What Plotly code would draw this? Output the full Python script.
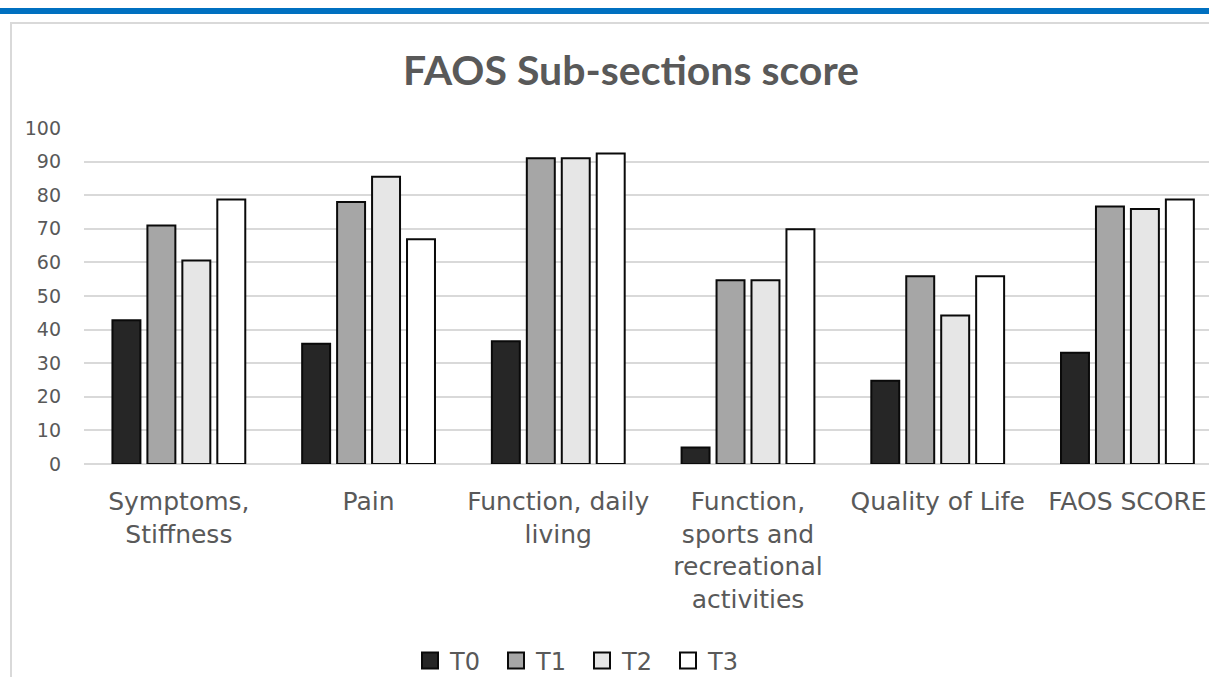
import plotly.graph_objects as go

categories = [
    "Symptoms,<br>Stiffness",
    "Pain",
    "Function, daily<br>living",
    "Function,<br>sports and<br>recreational<br>activities",
    "Quality of Life",
    "FAOS SCORE",
]
series_names = ["T0", "T1", "T2", "T3"]
t0 = [42.8, 35.8, 36.5, 4.9, 24.8, 33.1]
t1 = [71.0, 78.0, 91.0, 54.7, 55.9, 76.6]
t2 = [60.6, 85.5, 91.0, 54.7, 44.2, 75.9]
t3 = [78.7, 66.9, 92.4, 69.9, 55.9, 78.7]
y_ticks = [0, 10, 20, 30, 40, 50, 60, 70, 80, 90, 100]

values = [t0, t1, t2, t3]
fills = ["#262626", "#a6a6a6", "#e6e6e6", "#ffffff"]
outline = "#0a0a0a"

W, H = 1209, 677
L, R, T, B = 84, 0, 128, 213
pw, ph = W - L - R, H - T - B

def px_x(px):
    return (px - L) / pw

def px_y(py):
    return (H - B - py) / ph

fig = go.Figure()
for name, vals, col in zip(series_names, values, fills):
    fig.add_trace(go.Bar(
        name=name, x=list(range(len(categories))), y=vals, showlegend=False,
        legendgroup=name,
        marker=dict(color=col, line=dict(color=outline, width=2)),
    ))
# legend entries (larger square swatches like the reference)
for name, col in zip(series_names, fills):
    fig.add_trace(go.Scatter(
        name=name, x=[None], y=[None], mode="markers", legendgroup=name,
        marker=dict(symbol="square", size=16, color=col,
                    line=dict(color=outline, width=2)),
    ))

fig.update_layout(
    width=W, height=H,
    margin=dict(l=L, r=R, t=T, b=B, autoexpand=False),
    plot_bgcolor="white", paper_bgcolor="white",
    barmode="group", bargap=0.263, bargroupgap=0.2,
    title=dict(text="<b>FAOS Sub-sections score</b>",
               font=dict(family="Lato", size=41, color="#595959"),
               x=631 / W, xanchor="center", xref="container",
               y=1 - 71 / H, yanchor="middle", yref="container"),
    font=dict(family="DejaVu Sans", color="#595959"),
    legend=dict(orientation="h", x=582 / W, xanchor="center", xref="container",
                y=1 - 661 / H, yanchor="middle", yref="container",
                font=dict(family="DejaVu Sans", size=24, color="#595959"),
                itemwidth=30, entrywidth=41, traceorder="normal",
                itemclick=False, itemdoubleclick=False),
    showlegend=True,
)
fig.update_xaxes(
    tickmode="array", tickvals=list(range(len(categories))), ticktext=categories,
    range=[-0.5, 5.43], showgrid=False, showline=False, zeroline=False,
    tickfont=dict(family="DejaVu Sans", size=25, color="#595959"),
    ticks="", ticklabelstandoff=20, automargin=False,
)
fig.update_yaxes(
    range=[0, 100], tickvals=y_ticks, showgrid=True, gridcolor="#d9d9d9", gridwidth=2,
    zeroline=True, zerolinecolor="#d9d9d9", zerolinewidth=2, showline=False,
    tickfont=dict(family="DejaVu Sans", size=19, color="#595959"),
    ticks="", ticklabelstandoff=22, automargin=False,
)

# outer chart frame and top blue rule
fig.add_shape(type="rect", xref="paper", yref="paper",
              x0=px_x(11), x1=px_x(1230), y0=px_y(700), y1=px_y(23),
              line=dict(color="#d9d9d9", width=2), fillcolor="rgba(0,0,0,0)", layer="below")
fig.add_shape(type="rect", xref="paper", yref="paper",
              x0=px_x(-5), x1=px_x(1215), y0=px_y(14), y1=px_y(8),
              line=dict(width=0), fillcolor="#0070c0")

fig.write_html("out.html", config={"displayModeBar": False},
               post_script="document.body.style.margin='0';document.body.style.overflow='hidden';")
